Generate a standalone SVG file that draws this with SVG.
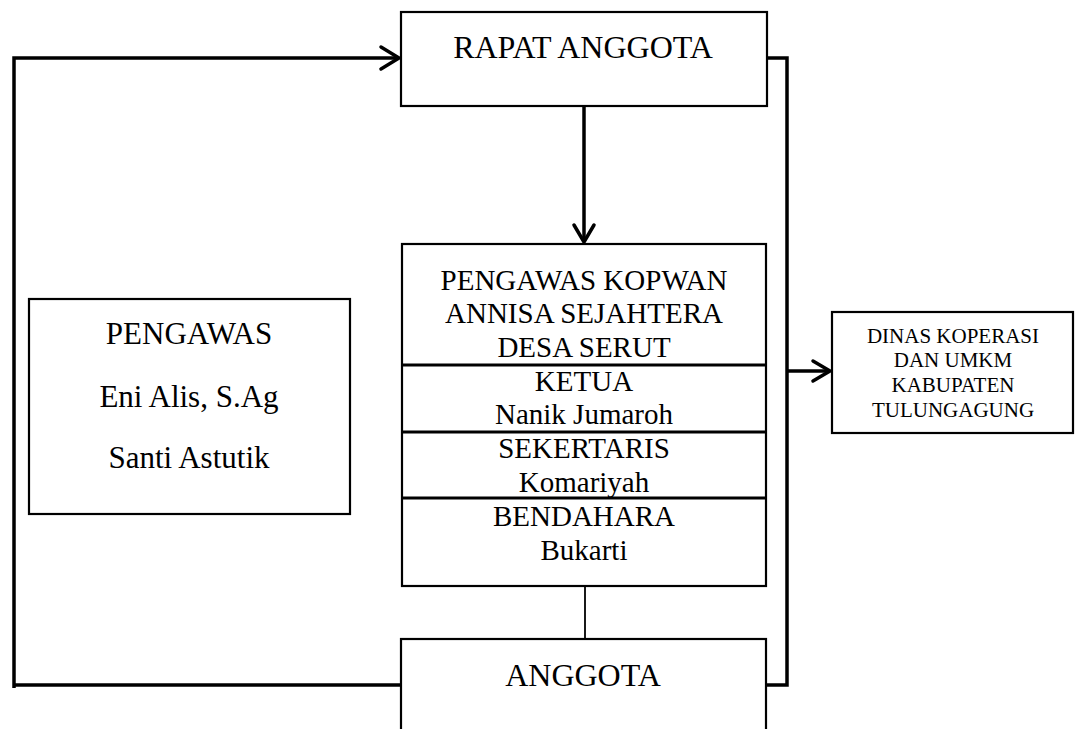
<svg xmlns="http://www.w3.org/2000/svg" width="1079" height="729" viewBox="0 0 1079 729">
<style>
.box{fill:#fff;stroke:#000;stroke-width:2.2}
.div{stroke:#000;stroke-width:3}
.t{font-family:"Liberation Serif","Times New Roman",serif;fill:#000;text-anchor:middle}
.conn{fill:none;stroke:#000;stroke-width:3.5}
.thin{fill:none;stroke:#000;stroke-width:1.8}
.head{fill:none;stroke:#000;stroke-width:3.5;stroke-linecap:round;stroke-linejoin:miter}
</style>
<rect width="1079" height="729" fill="#fff"/>
<g id="connectors">
<path class="conn" d="M14,688 V58 H399"/>
<path class="head" d="M381,47 L399,58 L381,69"/>
<path class="conn" d="M14,685 H401"/>
<path class="conn" d="M767,58 H787 V685 H766"/>
<path class="conn" d="M787,371 H830"/>
<path class="head" d="M813,361 L830,371 L813,381"/>
<path class="conn" d="M584,106 V242"/>
<path class="head" d="M574,225 L584,242 L594,225"/>
<path class="thin" d="M585,586 V640"/>
</g>
<g id="rapat-anggota">
<rect class="box" x="401" y="12" width="366" height="94"/>
<text class="t" x="583" y="58" font-size="32">RAPAT ANGGOTA</text>
</g>
<g id="pengawas">
<rect class="box" x="29" y="299" width="321" height="215"/>
<text class="t" x="189" y="344" font-size="31">PENGAWAS</text>
<text class="t" x="189" y="407" font-size="31">Eni Alis, S.Ag</text>
<text class="t" x="189" y="468" font-size="31">Santi Astutik</text>
</g>
<g id="pengurus">
<rect class="box" x="402" y="244" width="364" height="342"/>
<line class="div" x1="402" y1="365" x2="766" y2="365"/>
<line class="div" x1="402" y1="432" x2="766" y2="432"/>
<line class="div" x1="402" y1="498" x2="766" y2="498"/>
<text class="t" x="584" y="290" font-size="29">PENGAWAS KOPWAN</text>
<text class="t" x="584" y="323" font-size="29">ANNISA SEJAHTERA</text>
<text class="t" x="584" y="357" font-size="29">DESA SERUT</text>
<text class="t" x="584" y="391" font-size="29">KETUA</text>
<text class="t" x="584" y="424" font-size="29">Nanik Jumaroh</text>
<text class="t" x="584" y="458" font-size="29">SEKERTARIS</text>
<text class="t" x="584" y="492" font-size="29">Komariyah</text>
<text class="t" x="584" y="526" font-size="29">BENDAHARA</text>
<text class="t" x="584" y="560" font-size="29">Bukarti</text>
</g>
<g id="dinas">
<rect class="box" x="832" y="312" width="241" height="121"/>
<text class="t" x="953" y="343" font-size="21">DINAS KOPERASI</text>
<text class="t" x="953" y="367" font-size="21">DAN UMKM</text>
<text class="t" x="953" y="392" font-size="21">KABUPATEN</text>
<text class="t" x="953" y="417" font-size="21">TULUNGAGUNG</text>
</g>
<g id="anggota">
<rect class="box" x="401" y="639" width="365" height="100"/>
<text class="t" x="583" y="686" font-size="32">ANGGOTA</text>
</g>
</svg>
